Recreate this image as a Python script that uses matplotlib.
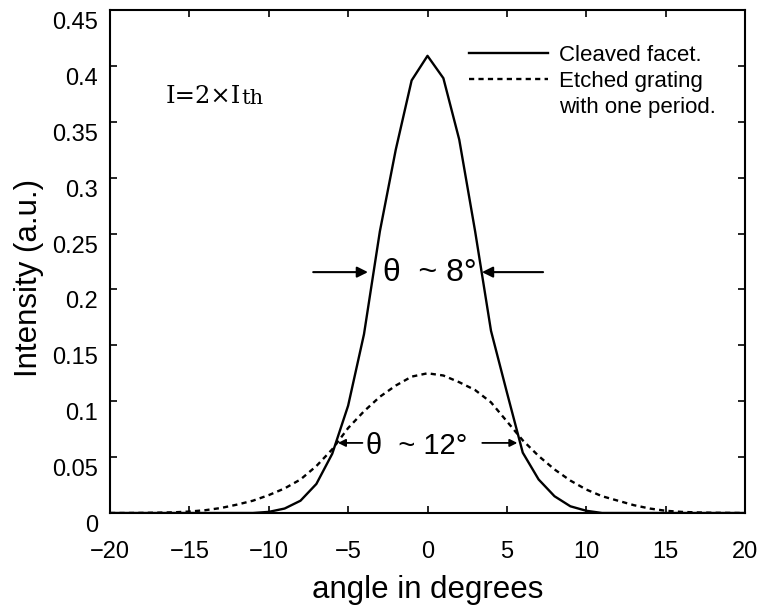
import matplotlib
matplotlib.use('Agg')
import matplotlib.pyplot as plt
from matplotlib.lines import Line2D
from matplotlib.transforms import ScaledTranslation

plt.rcParams['font.family'] = ['Liberation Sans', 'DejaVu Sans']

# angle in degrees, sampled every degree
angle = list(range(-20, 21))

# cleaved facet (solid)
cleaved = [0, 0, 0, 0, 0, 0, 0, 0, 0, 0,
           0.001, 0.004, 0.011, 0.026, 0.053, 0.096, 0.160, 0.252, 0.325, 0.387,
           0.409,
           0.389, 0.334, 0.252, 0.163, 0.108, 0.054, 0.030, 0.015, 0.006, 0.002,
           0, 0, 0, 0, 0, 0, 0, 0, 0, 0]

# etched grating with one period (dashed)
etched = [0, 0, 0.0001, 0.0003, 0.0006, 0.0013, 0.0025, 0.0045, 0.0075, 0.011,
          0.016, 0.022, 0.030, 0.042, 0.057, 0.076, 0.091, 0.104, 0.114, 0.122,
          0.125,
          0.123, 0.117, 0.110, 0.099, 0.082, 0.065, 0.051, 0.039, 0.029, 0.021,
          0.015, 0.011, 0.007, 0.004, 0.002, 0.001, 0.0005, 0.0002, 0.0001, 0]

xticks = [-20, -15, -10, -5, 0, 5, 10, 15, 20]
yticks = [0, 0.05, 0.1, 0.15, 0.2, 0.25, 0.3, 0.35, 0.4, 0.45]
yticklabels = ['0', '0.05', '0.1', '0.15', '0.2', '0.25', '0.3', '0.35', '0.4', '0.45']

fig = plt.figure(figsize=(7.63, 6.11), dpi=100)
ax = fig.add_axes([110 / 763, 98 / 611, 635 / 763, 503 / 611])

l1, = ax.plot(angle, cleaved, color='k', lw=1.7)
l2, = ax.plot(angle, etched, color='k', lw=1.7, linestyle=(0, (2.2, 1.8)))

ax.set_xlim(-20, 20)
ax.set_ylim(0, 0.45)
ax.set_xticks(xticks)
ax.set_yticks(yticks)
ax.set_yticklabels(yticklabels)
ax.tick_params(direction='in', length=5, width=1.2, top=True, right=True,
               labelsize=17)
ax.tick_params(axis='x', pad=20)
ax.tick_params(axis='y', pad=8.5)
for s in ax.spines.values():
    s.set_linewidth(1.5)

# y tick labels sit a bit below their ticks in the original
shift = ScaledTranslation(0, -10.5 / 100, fig.dpi_scale_trans)
for lab in ax.get_yticklabels():
    lab.set_transform(lab.get_transform() + shift)

ax.set_xlabel('angle in degrees', fontsize=22.5)
ax.set_ylabel('Intensity (a.u.)', fontsize=22.5)
ax.xaxis.set_label_coords(0.5, -0.123)
ax.yaxis.set_label_coords(-0.104, 0.467)

# legend: the second label wraps onto a line without its own handle
blank = Line2D([], [], linestyle='none')
ax.legend([l1, l2, blank], ['Cleaved facet.', 'Etched grating', 'with one period.'],
          loc='upper left', bbox_to_anchor=(0.565, 0.930), frameon=False,
          fontsize=16, handlelength=3.56, handletextpad=0.5,
          labelspacing=0.21, borderpad=0, borderaxespad=0)

# I = 2 x Ith
t1 = ax.text(-16.47, 0.367, 'I=2×I', family='DejaVu Serif', fontsize=17.5)
ax.annotate('th', xy=(1, 0), xycoords=t1, va='bottom', family='DejaVu Serif',
            fontsize=15)

# beam width markers
ax.annotate('', xy=(-3.75, 0.2155), xytext=(-7.2, 0.2155),
            arrowprops=dict(arrowstyle='-|>', color='k', lw=1.5,
                            mutation_scale=16, shrinkA=0, shrinkB=0))
ax.annotate('', xy=(3.43, 0.2155), xytext=(7.28, 0.2155),
            arrowprops=dict(arrowstyle='-|>', color='k', lw=1.5,
                            mutation_scale=16, shrinkA=0, shrinkB=0))
ax.text(0.16, 0.2148, 'θ  ~ 8°', fontsize=23, ha='center', va='center')

ax.annotate('', xy=(-5.64, 0.0627), xytext=(-4.1, 0.0627),
            arrowprops=dict(arrowstyle='-|>', color='k', lw=1.3,
                            mutation_scale=11, shrinkA=0, shrinkB=0))
ax.annotate('', xy=(5.66, 0.0627), xytext=(3.45, 0.0627),
            arrowprops=dict(arrowstyle='-|>', color='k', lw=1.3,
                            mutation_scale=11, shrinkA=0, shrinkB=0))
ax.text(-0.66, 0.060, 'θ  ~ 12°', fontsize=21, ha='center', va='center')

fig.savefig('out.png', dpi=100)
